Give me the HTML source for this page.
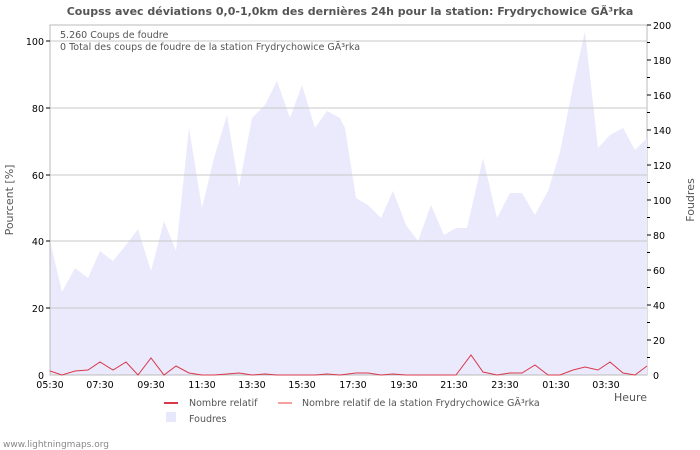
<!DOCTYPE html>
<html><head><meta charset="utf-8"><style>
body{margin:0;background:#fff;}
svg{display:block;font-family:"DejaVu Sans","Liberation Sans",sans-serif;}
</style></head><body>
<svg width="700" height="450" viewBox="0 0 700 450" xmlns="http://www.w3.org/2000/svg">
<rect width="700" height="450" fill="#fff"/>
<text x="350" y="15" text-anchor="middle" font-size="11" font-weight="bold" fill="#555">Coupss avec déviations 0,0-1,0km des dernières 24h pour la station: Frydrychowice GÃ³rka</text>
<rect x="50" y="25" width="597" height="350" fill="#fff" stroke="#bbb"/>
<polygon fill="#eaeafc" points="50,375 50,241 62,292 75,268 88,278 100,251 113,261 126,245 138,229 151,271 164,221 176,251 189,128 202,208 214,158 227,115 239,187 252,118 265,105 277,81 290,118 302,85 315,128 327,111 340,118 345,128 356,198 368,205 381,218 393,191 406,225 418,241 431,205 444,235 456,228 467,228 483,158 497,218 510,193 522,193 535,215 548,191 560,152 573,86 585,31 598,148 610,135 623,128 635,150 647,138 647,375"/>
<g stroke="#c8c8c8" stroke-width="1">
<line x1="50" y1="41" x2="647" y2="41"/><line x1="50" y1="108" x2="647" y2="108"/><line x1="50" y1="175" x2="647" y2="175"/><line x1="50" y1="241" x2="647" y2="241"/><line x1="50" y1="308" x2="647" y2="308"/>
</g>
<line x1="50" y1="25" x2="50" y2="375" stroke="#bbb"/>
<line x1="50" y1="375" x2="647" y2="375" stroke="#bbb"/>
<g stroke="#000" stroke-width="1">
<line x1="46" y1="41" x2="50" y2="41"/><line x1="46" y1="108" x2="50" y2="108"/><line x1="46" y1="175" x2="50" y2="175"/><line x1="46" y1="241" x2="50" y2="241"/><line x1="46" y1="308" x2="50" y2="308"/>
<line x1="647" y1="25" x2="651" y2="25"/><line x1="647" y1="60" x2="651" y2="60"/><line x1="647" y1="95" x2="651" y2="95"/><line x1="647" y1="130" x2="651" y2="130"/><line x1="647" y1="165" x2="651" y2="165"/><line x1="647" y1="200" x2="651" y2="200"/><line x1="647" y1="235" x2="651" y2="235"/><line x1="647" y1="270" x2="651" y2="270"/><line x1="647" y1="305" x2="651" y2="305"/><line x1="647" y1="340" x2="651" y2="340"/>
<line x1="647" y1="42.5" x2="650" y2="42.5"/><line x1="647" y1="77.5" x2="650" y2="77.5"/><line x1="647" y1="112.5" x2="650" y2="112.5"/><line x1="647" y1="147.5" x2="650" y2="147.5"/><line x1="647" y1="182.5" x2="650" y2="182.5"/><line x1="647" y1="217.5" x2="650" y2="217.5"/><line x1="647" y1="252.5" x2="650" y2="252.5"/><line x1="647" y1="287.5" x2="650" y2="287.5"/><line x1="647" y1="322.5" x2="650" y2="322.5"/><line x1="647" y1="357.5" x2="650" y2="357.5"/>
</g>
<g stroke="#000" id="xt"></g>
<polyline fill="none" stroke="#d9384a" stroke-width="1" points="50,371 62,375 75,371 88,370 100,362 113,370 126,362 138,375 151,358 164,375 176,366 189,373 202,375 214,375 227,374 239,373 252,375 265,374 277,375 290,375 302,375 315,375 327,374 340,375 356,373 368,373 381,375 393,374 406,375 418,375 431,375 444,375 456,375 471,355 483,372 497,375 510,373 522,373 535,365 548,375 560,375 573,370 585,367 598,370 610,362 623,373 635,375 647,366"/>
<g font-size="9.5" fill="#000">
<text x="44" y="45" text-anchor="end">100</text><text x="44" y="112" text-anchor="end">80</text><text x="44" y="179" text-anchor="end">60</text><text x="44" y="245" text-anchor="end">40</text><text x="44" y="312" text-anchor="end">20</text><text x="44" y="379" text-anchor="end">0</text>
<text x="653" y="29">200</text><text x="653" y="64">180</text><text x="653" y="99">160</text><text x="653" y="134">140</text><text x="653" y="169">120</text><text x="653" y="204">100</text><text x="653" y="239">80</text><text x="653" y="274">60</text><text x="653" y="309">40</text><text x="653" y="344">20</text><text x="653" y="379">0</text>
<text x="50" y="388" text-anchor="middle">05:30</text><text x="100" y="388" text-anchor="middle">07:30</text><text x="151" y="388" text-anchor="middle">09:30</text><text x="202" y="388" text-anchor="middle">11:30</text><text x="252" y="388" text-anchor="middle">13:30</text><text x="302" y="388" text-anchor="middle">15:30</text><text x="353" y="388" text-anchor="middle">17:30</text><text x="404" y="388" text-anchor="middle">19:30</text><text x="454" y="388" text-anchor="middle">21:30</text><text x="505" y="388" text-anchor="middle">23:30</text><text x="556" y="388" text-anchor="middle">01:30</text><text x="606" y="388" text-anchor="middle">03:30</text>
</g>
<g font-size="9.5" fill="#555">
<text x="60" y="38">5.260  Coups de foudre</text>
<text x="60" y="50">0 Total des coups de foudre de la station Frydrychowice GÃ³rka</text>
<text x="647" y="401" text-anchor="end" font-size="11">Heure</text>
<text transform="translate(13,200) rotate(-90)" text-anchor="middle" font-size="11">Pourcent   [%]</text>
<text transform="translate(694,200) rotate(-90)" text-anchor="middle" font-size="11">Foudres</text>
<text x="189" y="406">Nombre relatif</text>
<text x="302" y="406">Nombre relatif de la station Frydrychowice GÃ³rka</text>
<text x="189" y="422">Foudres</text>
<text x="3" y="447" fill="#888" font-size="9">www.lightningmaps.org</text>
</g>
<line x1="164" y1="403" x2="178" y2="403" stroke="#d9384a" stroke-width="2"/>
<line x1="278" y1="403" x2="292" y2="403" stroke="#f5a0a0" stroke-width="2"/>
<rect x="166" y="412" width="10" height="10" fill="#e8e8fc"/>
<script>
var g=document.getElementById('xt'),s='';
for(var i=0;i<=48;i++){var x=50+i*597/48;var h=(i%2==0)?5:3;s+='<line x1="'+x+'" y1="'+(375-h)+'" x2="'+x+'" y2="375" stroke="#000"/>';}
g.innerHTML=s;
</script>
</svg>
</body></html>
